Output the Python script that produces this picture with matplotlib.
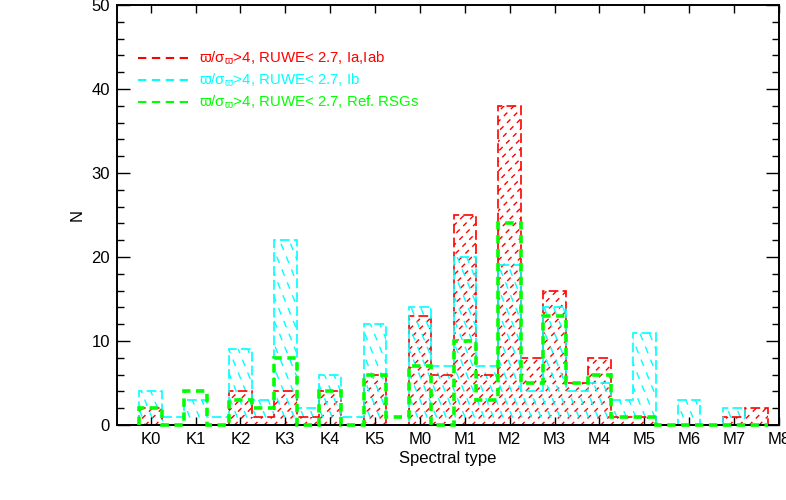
import numpy as np
import matplotlib
matplotlib.use('Agg')
import matplotlib.pyplot as plt
from matplotlib.patches import Polygon
from matplotlib.collections import LineCollection
from matplotlib.transforms import IdentityTransform

plt.rcParams['font.family'] = ['Liberation Sans', 'DejaVu Sans']
plt.rcParams['lines.scale_dashes'] = False

# half-subtype bins, K0 ... M7.5
bin_centers = np.arange(0, 14, 0.5)
tick_labels = ['K0', 'K1', 'K2', 'K3', 'K4', 'K5', 'M0', 'M1', 'M2', 'M3',
               'M4', 'M5', 'M6', 'M7', 'M8']

n_ia = [2, 0, 0, 0, 4, 1, 4, 1, 4, 0, 6, 0, 13, 6, 25, 6, 38, 8, 16, 5,
        8, 1, 1, 0, 0, 0, 1, 2]
n_ib = [4, 1, 3, 1, 9, 3, 22, 2, 6, 1, 12, 0, 14, 7, 20, 7, 19, 4, 14, 4,
        5, 3, 11, 0, 3, 0, 2, 0]
n_ref = [2, 0, 4, 0, 3, 2, 8, 0, 4, 0, 6, 1, 7, 0, 10, 3, 24, 5, 13, 5,
         6, 1, 1, 0, 0, 0, 0, 0]

labels = [r'ϖ/σ$_\mathregular{ϖ}$>4, RUWE< 2.7, Ia,Iab',
          r'ϖ/σ$_\mathregular{ϖ}$>4, RUWE< 2.7, Ib',
          r'ϖ/σ$_\mathregular{ϖ}$>4, RUWE< 2.7, Ref. RSGs']

RED = '#ff0000'
CYAN = '#00ffff'
GREEN = '#00ff00'

edges = np.append(bin_centers - 0.25, bin_centers[-1] + 0.25)


def step_polygon(ax, values):
    """Closed polygon following the histogram steps (used as hatch clip)"""
    verts = [(edges[0], 0)]
    for i, v in enumerate(values):
        verts.append((edges[i], v))
        verts.append((edges[i + 1], v))
    verts.append((edges[-1], 0))
    poly = Polygon(verts, closed=True, facecolor='none', edgecolor='none',
                   transform=ax.transData)
    ax.add_patch(poly)
    return poly


def dashed_hatch(ax, fig, values, color, angle, spacing, dashes, lw=1.0):
    """IDL-like line_fill: dashed parallel lines clipped to the histogram"""
    poly = step_polygon(ax, values)
    bb = ax.get_window_extent(fig.canvas.get_renderer())
    th = np.deg2rad(angle)
    d = np.array([np.cos(th), np.sin(th)])
    nrm = np.array([-np.sin(th), np.cos(th)])
    corners = np.array([[bb.x0, bb.y0], [bb.x1, bb.y0],
                        [bb.x0, bb.y1], [bb.x1, bb.y1]])
    proj = corners @ nrm
    L = np.hypot(bb.width, bb.height)
    segs = []
    for s in np.arange(proj.min(), proj.max(), spacing):
        c = s * nrm + ((corners.mean(axis=0)) @ d) * d
        segs.append([c - L * d, c + L * d])
    lc = LineCollection(segs, colors=color, linewidths=lw,
                        linestyles=[(0, dashes)], transform=IdentityTransform(),
                        zorder=1.2)
    ax.add_collection(lc, autolim=False)
    lc.set_clip_path(poly)


fig = plt.figure(figsize=(7.86, 5.0), dpi=100)
ax = fig.add_axes([117 / 786, 75 / 500, 662 / 786, 420 / 500])
ax.set_xlim(-0.75, 14)
ax.set_ylim(0, 50)

# hatching
dashed_hatch(ax, fig, n_ia, RED, 45, 7.0, (3.5, 3.5))
dashed_hatch(ax, fig, n_ib, CYAN, -68, 8.8, (5.0, 5.0))

# outlines
ax.stairs(n_ia, edges, color=RED, linewidth=1.2, linestyle=(0, (7, 3)),
          zorder=2.2)
ax.stairs(n_ib, edges, color=CYAN, linewidth=1.2, linestyle=(0, (7, 3)),
          zorder=2.3)
st = ax.stairs(n_ref, edges, color=GREEN, linewidth=2.6, linestyle=(0, (6, 4)),
               zorder=3)
st.set_clip_on(False)

# legend, drawn by hand like the IDL one
leg_y = [0.874, 0.822, 0.769]
leg_col = [RED, CYAN, GREEN]
for y, c, lab in zip(leg_y, leg_col, labels):
    ax.plot([0.032, 0.110], [y, y], transform=ax.transAxes, color=c,
            linewidth=1.5, linestyle=(0, (6, 4)))
    ax.text(0.124, y, lab, transform=ax.transAxes, color=c, fontsize=10.8,
            va='center', ha='left')

ax.set_xticks(np.arange(0, 15))
ax.set_xticklabels(tick_labels)
ax.set_yticks(np.arange(0, 51, 10))
ax.set_yticks(np.arange(0, 51, 2), minor=True)
ax.tick_params(axis='x', which='major', direction='in', top=True, bottom=True,
               length=6, width=1, labelsize=12, pad=5)
ax.tick_params(axis='y', which='major', direction='in', left=True, right=True,
               length=9.5, width=1, labelsize=12, pad=5)
ax.tick_params(axis='y', which='minor', direction='in', left=True, right=True,
               length=4.8, width=1)
for sp in ax.spines.values():
    sp.set_linewidth(1.4)

ax.set_xlabel('Spectral type', fontsize=12, labelpad=3)
ax.set_ylabel('N', fontsize=12, labelpad=5)

fig.savefig('out.png', dpi=100)
